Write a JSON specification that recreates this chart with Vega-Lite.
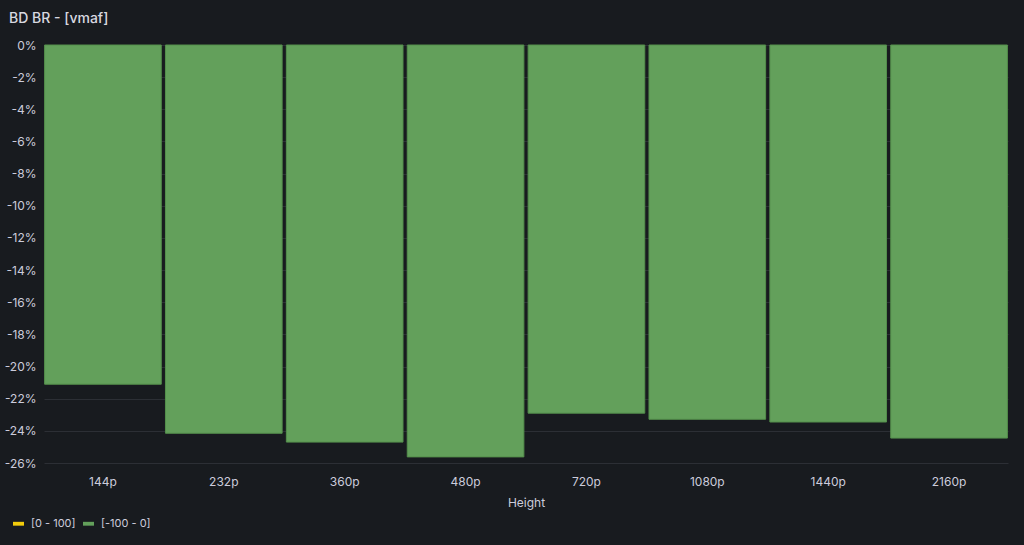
{
  "$schema": "https://vega.github.io/schema/vega-lite/v6.json",
  "autosize": {"type": "none"},
  "width": 964,
  "height": 418,
  "padding": {"left": 44, "top": 45, "right": 16, "bottom": 82},
  "background": "#181b1f",
  "title": {
    "text": "BD BR - [vmaf]",
    "anchor": "start",
    "frame": "group",
    "dx": -35,
    "offset": 13,
    "fontSize": 14,
    "fontWeight": 500,
    "font": "Inter",
    "color": "#d8d9e0"
  },
  "config": {
    "view": {"stroke": null},
    "font": "Inter"
  },
  "data": {
    "values": [
      {"height": "144p", "bdbr": -21.1, "range": "[-100 - 0]"},
      {"height": "232p", "bdbr": -24.15, "range": "[-100 - 0]"},
      {"height": "360p", "bdbr": -24.7, "range": "[-100 - 0]"},
      {"height": "480p", "bdbr": -25.62, "range": "[-100 - 0]"},
      {"height": "720p", "bdbr": -22.9, "range": "[-100 - 0]"},
      {"height": "1080p", "bdbr": -23.28, "range": "[-100 - 0]"},
      {"height": "1440p", "bdbr": -23.45, "range": "[-100 - 0]"},
      {"height": "2160p", "bdbr": -24.45, "range": "[-100 - 0]"}
    ]
  },
  "mark": {"type": "bar", "stroke": "#548f4c", "strokeWidth": 1},
  "encoding": {
    "x": {
      "field": "height",
      "type": "nominal",
      "sort": null,
      "scale": {"paddingInner": 0.035, "paddingOuter": 0.005},
      "axis": {
        "title": "Height",
        "labelAngle": 0,
        "domain": false,
        "ticks": false,
        "grid": false,
        "labelPadding": 13,
        "labelFontSize": 12,
        "labelColor": "#ccccdc",
        "titleColor": "#ccccdc",
        "titleFontSize": 12,
        "titleFontWeight": "normal",
        "titlePadding": 10
      }
    },
    "y": {
      "field": "bdbr",
      "type": "quantitative",
      "scale": {"domain": [-26, 0], "nice": false, "zero": false},
      "axis": {
        "title": null,
        "values": [0, -2, -4, -6, -8, -10, -12, -14, -16, -18, -20, -22, -24, -26],
        "labelExpr": "datum.value + '%'",
        "domain": false,
        "ticks": false,
        "grid": true,
        "gridColor": "#2c2f35",
        "gridWidth": 1,
        "labelPadding": 8,
        "labelFontSize": 12,
        "labelColor": "#ccccdc"
      }
    },
    "y2": {"datum": 0},
    "color": {
      "field": "range",
      "type": "nominal",
      "scale": {"domain": ["[0 - 100]", "[-100 - 0]"], "range": ["#f2cc0c", "#63a05b"]},
      "legend": {
        "title": null,
        "orient": "none",
        "legendX": -31,
        "legendY": 473,
        "direction": "horizontal",
        "symbolType": "M-1,-0.35L1,-0.35L1,0.35L-1,0.35Z",
        "symbolSize": 121,
        "symbolStrokeWidth": 0,
        "symbolOpacity": 1,
        "labelFontSize": 11,
        "labelColor": "#ccccdc",
        "columnPadding": 7,
        "labelOffset": 7
      }
    }
  }
}
